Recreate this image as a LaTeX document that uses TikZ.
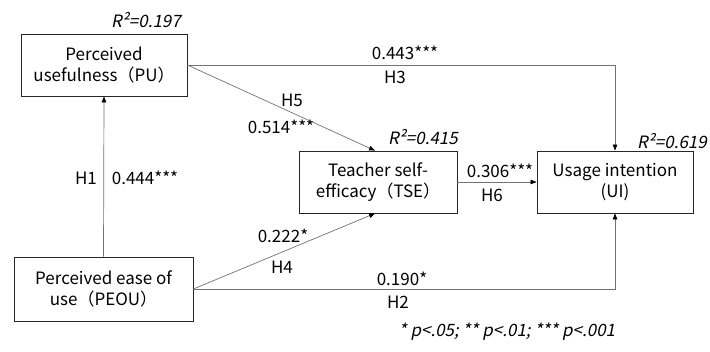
\documentclass[tikz,border=0pt]{standalone}
\usepackage{fontspec}
\setmainfont{Noto Sans CJK KR}
\newfontfamily\itf[FakeSlant=0.2]{Noto Sans CJK KR}
\usetikzlibrary{arrows.meta}
\begin{document}
\begin{tikzpicture}[x=1pt,y=-1pt,
  box/.style={draw=black!85,line width=0.8pt,rectangle,align=center,inner sep=0pt,
    font=\fontsize{17}{21}\selectfont},
  conn/.style={draw=black!55,line width=0.7pt,-{Triangle[color=black,length=6pt,width=4.5pt]}},
  lbl/.style={inner sep=0pt,font=\fontsize{17}{19}\selectfont},
  rsq/.style={inner sep=0pt,font=\fontsize{17}{19}\selectfont\itf}]
\useasboundingbox (0,0) rectangle (710,352);
\node[box,minimum width=166pt,minimum height=62pt] (PU) at (104,65) {Perceived\\usefulness（PU）};
\node[box,minimum width=158pt,minimum height=62pt] (TSE) at (378,182) {Teacher self-\\efficacy（TSE）};
\node[box,minimum width=156pt,minimum height=62pt] (UI) at (615,182) {Usage intention\\(UI)};
\node[box,minimum width=179pt,minimum height=64pt] (PEOU) at (103.5,289) {Perceived ease of\\use（PEOU）};
% connectors
\draw[conn] (PEOU.north) -- (PU.south);
\draw[conn] (PU.east) -- (PU.east -| UI.north) -- (UI.north);
\draw[conn] (PU.east) -- ([xshift=-3pt]TSE.north);
\draw[conn] (TSE.east) -- (UI.west);
\draw[conn] (PEOU.east) -- ([xshift=-3pt]TSE.south);
\draw[conn] (PEOU.east) -- (PEOU.east -| UI.south) -- (UI.south);
% labels
\node[rsq] (r1) at (146,20) {R²=0.197};
\node[rsq] (r2) at (423,137) {R²=0.415};
\node[rsq] (r3) at (672,141) {R²=0.619};
\node[lbl] (l3) at (405,53) {0.443***};
\node[lbl] (h3) at (395,77) {H3};
\node[lbl] (h5) at (292,100) {H5};
\node[lbl] (l5) at (281,127) {0.514***};
\node[lbl] (l6) at (500,171) {0.306***};
\node[lbl] (h6) at (492,195) {H6};
\node[lbl] (h1) at (86,178) {H1};
\node[lbl] (l1) at (145,178) {0.444***};
\node[lbl] (l4) at (283,236) {0.222*};
\node[lbl] (h4) at (282,267) {H4};
\node[lbl] (l2) at (402,279) {0.190*};
\node[lbl] (h2) at (398,302) {H2};
\node[rsq] (fn) at (507,332) {* p<.05; ** p<.01; *** p<.001};
\end{tikzpicture}
\end{document}
